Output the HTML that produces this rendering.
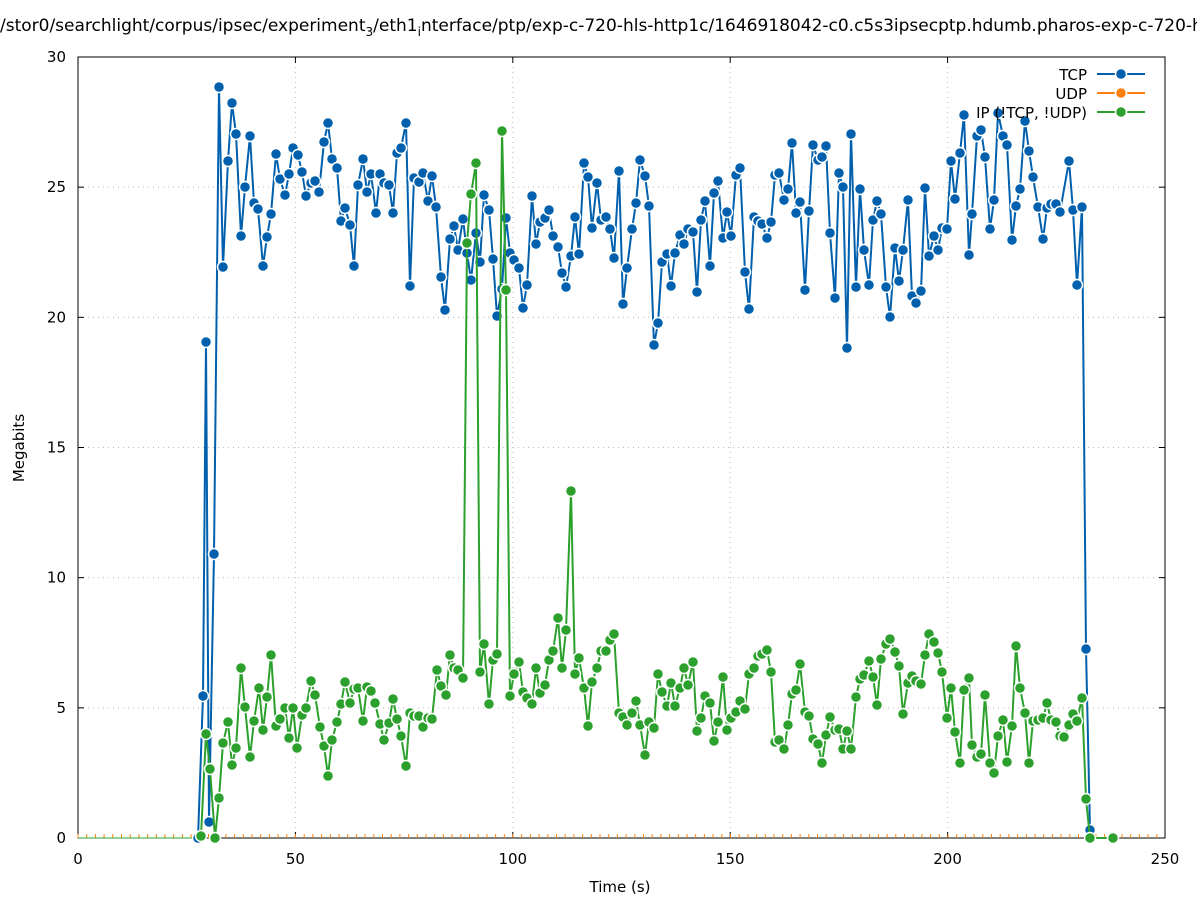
<!DOCTYPE html>
<html><head><meta charset="utf-8"><style>
html,body{margin:0;padding:0;background:#fff;width:1197px;height:900px;overflow:hidden}
svg text{font-family:"DejaVu Sans","Liberation Sans",sans-serif;font-size:15px;fill:#000}
</style></head><body>
<svg id="s" width="1197" height="900" xmlns="http://www.w3.org/2000/svg">
<rect width="1197" height="900" fill="#fff"/>
<g id="grid" stroke="#bbb" stroke-width="1" stroke-dasharray="1,4"></g>
<rect x="78" y="57" width="1087" height="781" fill="none" stroke="#000" stroke-width="1"/>
<g id="ticks"></g>
<g id="data"></g>
<text x="0" y="31" style="font-size:17px">/stor0/searchlight/corpus/ipsec/experiment<tspan dy="5" style="font-size:12px">3</tspan><tspan dy="-5">/eth1</tspan><tspan dy="5" style="font-size:12px">i</tspan><tspan dy="-5">nterface/ptp/exp-c-720-hls-http1c/1646918042-c0.c5s3ipsecptp.hdumb.pharos-exp-c-720-hls-http1c</tspan></text>
<text x="620" y="892" text-anchor="middle">Time (s)</text>
<text transform="translate(24,448) rotate(-90)" text-anchor="middle">Megabits</text>
<g id="legend">
<text x="1087" y="80" text-anchor="end">TCP</text>
<text x="1087" y="99" text-anchor="end">UDP</text>
<text x="1087" y="118" text-anchor="end">IP (!TCP, !UDP)</text>
</g>
</svg>
<script>
var NS="http://www.w3.org/2000/svg";
function el(p,t,a){var e=document.createElementNS(NS,t);for(var k in a)e.setAttribute(k,a[k]);p.appendChild(e);return e;}
var grid=document.getElementById('grid'),ticks=document.getElementById('ticks'),data=document.getElementById('data'),s=document.getElementById('s');
for(var v=0;v<=30;v+=5){var y=838-v*26.033;
 if(v>0&&v<30)el(grid,'line',{x1:78,x2:1165,y1:y,y2:y});
 el(ticks,'line',{x1:78,x2:84,y1:y,y2:y,stroke:'#000'});el(ticks,'line',{x1:1159,x2:1165,y1:y,y2:y,stroke:'#000'});
 var t=el(s,'text',{x:66,y:y+5,'text-anchor':'end'});t.textContent=v;}
for(var v=0;v<=250;v+=50){var x=78+v*4.348;
 if(v>0&&v<250)el(grid,'line',{x1:x,x2:x,y1:57,y2:838});
 el(ticks,'line',{x1:x,x2:x,y1:838,y2:832,stroke:'#000'});el(ticks,'line',{x1:x,x2:x,y1:57,y2:63,stroke:'#000'});
 var t=el(s,'text',{x:x,y:864,'text-anchor':'middle'});t.textContent=v;}
for(var x=78;x<=1165;x+=8.7){el(data,'line',{x1:x,x2:x,y1:834,y2:838,stroke:'#ff7f0e','stroke-width':1});}
el(data,'line',{x1:78,x2:200,y1:838,y2:838,stroke:'#2ca02c','stroke-width':1});
var tcp=[[198,838],[203,696],[206,342],[209,822],[214,554],[219,87],[223,267],[228,161],[232,103],[236,134],[241,236],[245,187],[250,136],[254,203],[258,209],[263,266],[267,237],[271,214],[276,154],[280,179],[285,195],[289,174],[293,148],[298,155],[302,172],[306,196],[311,183],[315,181],[319,192],[324,142],[328,123],[332,159],[337,168],[341,221],[345,208],[350,225],[354,266],[358,185],[363,159],[367,192],[371,174],[376,213],[380,174],[384,183],[389,185],[393,213],[397,153],[401,148],[406,123],[410,286],[414,178],[419,182],[423,173],[428,201],[432,176],[436,207],[441,277],[445,310],[450,239],[454,226],[458,250],[463,219],[467,253],[471,280],[476,233],[480,262],[484,195],[489,210],[493,259],[497,316],[502,289],[506,218],[510,253],[514,260],[519,268],[523,308],[527,285],[532,196],[536,244],[540,222],[545,218],[549,210],[553,236],[558,247],[562,273],[566,287],[571,256],[575,217],[579,254],[584,163],[588,177],[592,228],[597,183],[601,220],[606,217],[610,229],[614,258],[619,171],[623,304],[627,268],[632,229],[636,203],[640,160],[645,176],[649,206],[654,345],[658,323],[662,262],[667,254],[671,286],[675,253],[680,235],[684,244],[688,229],[693,232],[697,292],[701,220],[705,201],[710,266],[714,193],[718,181],[723,238],[727,212],[731,236],[736,175],[740,168],[745,272],[749,309],[754,217],[758,221],[762,224],[767,238],[771,222],[775,175],[779,173],[784,200],[788,189],[792,143],[796,213],[800,202],[805,290],[809,211],[813,145],[818,160],[822,157],[826,146],[830,233],[835,298],[839,173],[843,187],[847,348],[851,134],[856,287],[860,189],[864,250],[869,285],[873,220],[877,201],[881,214],[886,287],[890,317],[895,248],[899,281],[903,250],[908,200],[912,296],[916,303],[921,291],[925,188],[929,256],[934,236],[938,250],[942,228],[947,229],[951,161],[955,199],[960,153],[964,115],[969,255],[972,214],[977,136],[981,130],[985,157],[990,229],[994,200],[998,113],[1003,136],[1007,145],[1012,240],[1016,206],[1020,189],[1025,121],[1029,151],[1033,177],[1038,207],[1043,239],[1047,208],[1051,204],[1056,204],[1060,212],[1069,161],[1073,210],[1077,285],[1082,207],[1086,649],[1090,830]];
var ip=[[201,836],[206,734],[210,769],[215,838],[219,798],[223,743],[228,722],[232,765],[236,748],[241,668],[245,707],[250,757],[254,721],[259,688],[263,730],[267,697],[271,655],[276,726],[280,719],[285,708],[289,738],[293,708],[297,748],[302,715],[306,708],[311,681],[315,695],[320,727],[324,746],[328,776],[332,740],[337,722],[341,704],[345,682],[350,703],[354,689],[358,688],[363,721],[367,687],[371,691],[375,703],[380,724],[384,740],[389,723],[393,699],[397,719],[401,736],[406,766],[410,713],[414,716],[419,716],[423,727],[428,718],[432,719],[437,670],[441,686],[446,695],[450,655],[454,668],[458,670],[463,678],[467,243],[471,194],[476,163],[480,672],[484,644],[489,704],[493,660],[497,654],[502,131],[506,290],[510,696],[514,674],[519,662],[523,692],[527,698],[532,704],[536,668],[540,693],[545,685],[549,660],[553,651],[558,618],[562,668],[566,630],[571,491],[575,674],[579,658],[584,688],[588,726],[592,682],[597,668],[601,651],[606,651],[610,640],[614,634],[619,713],[623,717],[627,725],[632,713],[636,701],[640,725],[645,755],[649,722],[654,728],[658,674],[662,692],[667,706],[671,683],[675,706],[680,688],[684,668],[688,685],[693,662],[697,731],[701,718],[705,696],[710,703],[714,741],[718,722],[723,677],[727,730],[731,718],[736,712],[740,701],[745,709],[749,674],[754,668],[758,656],[762,654],[767,650],[771,672],[775,742],[779,740],[784,749],[788,725],[792,694],[796,690],[800,664],[805,712],[809,716],[813,739],[818,744],[822,763],[826,735],[830,717],[835,730],[839,729],[843,749],[847,731],[851,749],[856,697],[860,679],[864,675],[869,661],[873,677],[877,705],[881,659],[886,644],[890,639],[895,652],[899,666],[903,714],[908,683],[912,676],[916,681],[921,684],[925,655],[929,634],[934,642],[938,653],[942,672],[947,718],[951,688],[955,732],[960,763],[964,690],[969,678],[972,745],[977,757],[981,754],[985,695],[990,763],[994,773],[998,736],[1003,720],[1007,762],[1012,726],[1016,646],[1020,688],[1025,713],[1029,763],[1033,721],[1038,720],[1043,718],[1047,703],[1051,720],[1056,722],[1060,736],[1064,737],[1069,725],[1073,714],[1077,721],[1082,698],[1086,799],[1090,838],[1113,838]];
function series(pts,c){
 el(data,'polyline',{points:pts.map(function(p){return p.join(',')}).join(' '),fill:'none',stroke:c,'stroke-width':2,'stroke-linejoin':'round'});
 pts.forEach(function(p){el(data,'circle',{cx:p[0],cy:p[1],r:5.5,fill:c,stroke:'#fff','stroke-width':1.5});});
}
series(tcp,'#0060ad');series(ip,'#2ca02c');
var lg=document.getElementById('legend');
[['#0060ad',74],['#ff7f0e',93],['#2ca02c',112]].forEach(function(a){
 el(lg,'line',{x1:1097,x2:1145,y1:a[1],y2:a[1],stroke:a[0],'stroke-width':2});
 el(lg,'circle',{cx:1121,cy:a[1],r:5.5,fill:a[0],stroke:'#fff','stroke-width':1.5});});
</script>
</body></html>
